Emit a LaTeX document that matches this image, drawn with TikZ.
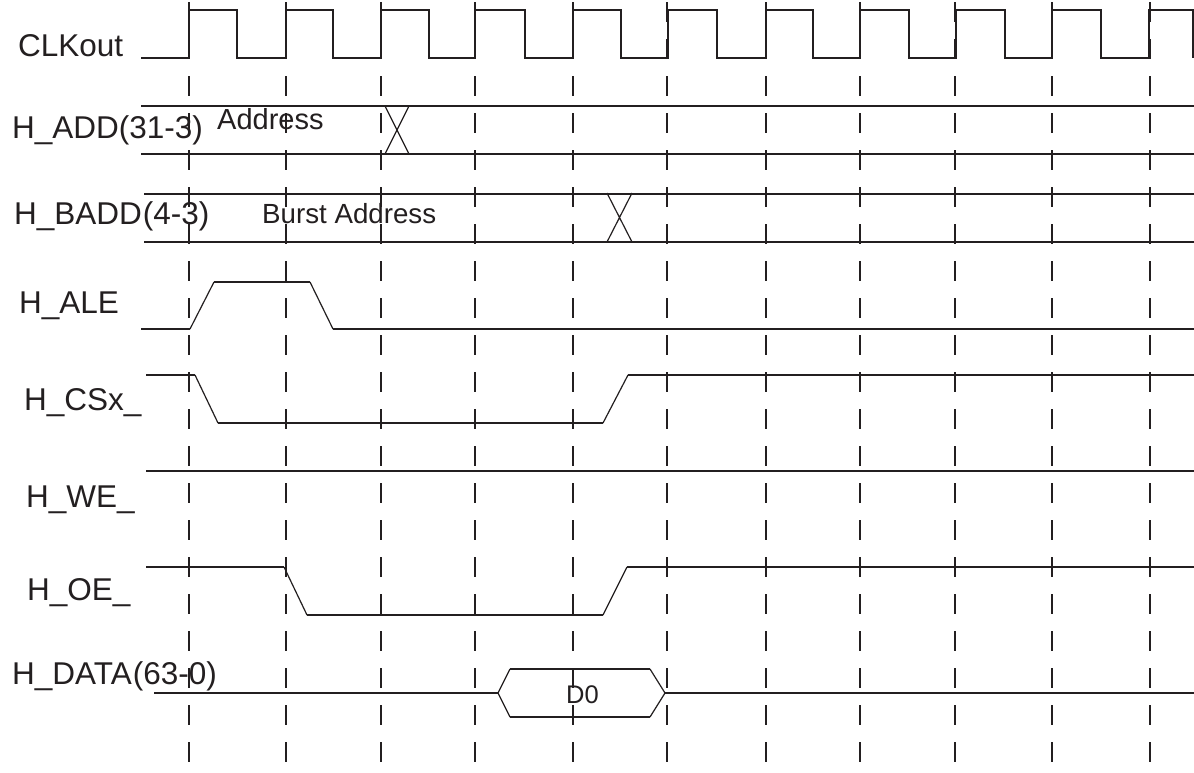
\documentclass[tikz,border=0pt]{standalone}
\usepackage{fontspec}
\setmainfont{Liberation Sans}
\definecolor{ink}{RGB}{35,31,32}
\begin{document}
\begin{tikzpicture}[x=1pt,y=-1pt,
  sig/.style={draw=ink, line width=2.2pt, line join=miter},
  slope/.style={draw=ink, line width=1.2pt},
  gridline/.style={draw=ink, line width=2.4pt, dash pattern=on 20pt off 17pt},
  lbl/.style={anchor=base west, inner sep=0pt, text=ink, font=\fontsize{31.5}{36}\selectfont},
  val/.style={anchor=base west, inner sep=0pt, text=ink, font=\fontsize{29}{34}\selectfont},
  bval/.style={anchor=base west, inner sep=0pt, text=ink, font=\fontsize{27.7}{34}\selectfont},
  dval/.style={anchor=base west, inner sep=0pt, text=ink, font=\fontsize{25.5}{30}\selectfont}]
\useasboundingbox (0,0) rectangle (1194,772);
\fill[white] (0,0) rectangle (1194,772);
% clock-edge grid
\foreach \x in {189,286,381,475,573,667,766,860,955,1052,1150}
  \draw[gridline] (\x,2) -- (\x,766);
% labels
\node[lbl] (clk) at (18,56) {CLKout};
\node[lbl] (add) at (12,138) {H\_ADD(31-3)};
\node[val] (addv) at (217,129) {Address};
\node[lbl] (badd) at (14,224) {H\_BADD\kern1pt(4-3)};
\node[bval] (baddv) at (262,223) {Burst Address};
\node[lbl] (ale) at (19,313) {H\_ALE};
\node[lbl] (cs) at (24,410) {H\_CSx\_};
\node[lbl] (we) at (26,507) {H\_WE\_};
\node[lbl] (oe) at (27,600) {H\_OE\_};
\node[lbl] (data) at (12,684) {H\_DATA\kern1pt(63-0)};
\node[dval] (d0) at (566,703) {D0};
% CLKout
\draw[sig] (141,58) -- (189,58) -- (189,10) -- (237,10) -- (237,58) -- (286,58) -- (286,10)
  -- (333,10) -- (333,58) -- (381,58) -- (381,10) -- (429,10) -- (429,58) -- (475,58) -- (475,10)
  -- (525,10) -- (525,58) -- (573,58) -- (573,10) -- (621,10) -- (621,58) -- (668,58) -- (668,10)
  -- (717,10) -- (717,58) -- (766,58) -- (766,10) -- (813,10) -- (813,58) -- (860,58) -- (860,10)
  -- (909,10) -- (909,58) -- (956,58) -- (956,10) -- (1005,10) -- (1005,58) -- (1052,58) -- (1052,10)
  -- (1101,10) -- (1101,58) -- (1149,58) -- (1149,10) -- (1193,10) -- (1193,58);
% H_ADD
\draw[sig] (141,106) -- (1194,106) (141,154) -- (1194,154);
\draw[slope] (385,106) -- (409,154) (385,154) -- (409,106);
% H_BADD
\draw[sig] (144,194) -- (1194,194) (144,242) -- (1194,242);
\draw[slope] (607,193) -- (632,242) (607,242) -- (632,193);
% H_ALE
\draw[sig] (141,329) -- (190,329) (214,282) -- (310,282) (333,329) -- (1194,329);
\draw[slope] (190,329) -- (214,282) (310,282) -- (333,329);
% H_CSx_
\draw[sig] (146,375) -- (195,375) (218,423) -- (603,423) (628,375) -- (1194,375);
\draw[slope] (195,375) -- (218,423) (603,423) -- (628,375);
% H_WE_
\draw[sig] (146,471) -- (1194,471);
% H_OE_
\draw[sig] (146,567) -- (284,567) (307,615) -- (603,615) (627,567) -- (1194,567);
\draw[slope] (284,567) -- (307,615) (603,615) -- (627,567);
% H_DATA
\draw[sig] (154,693) -- (498,693) (510,669) -- (650,669) (510,717) -- (650,717) (665,693) -- (1194,693);
\draw[slope] (510,669) -- (498,693) -- (510,717) (650,669) -- (665,693) -- (650,717);
\end{tikzpicture}
\end{document}
